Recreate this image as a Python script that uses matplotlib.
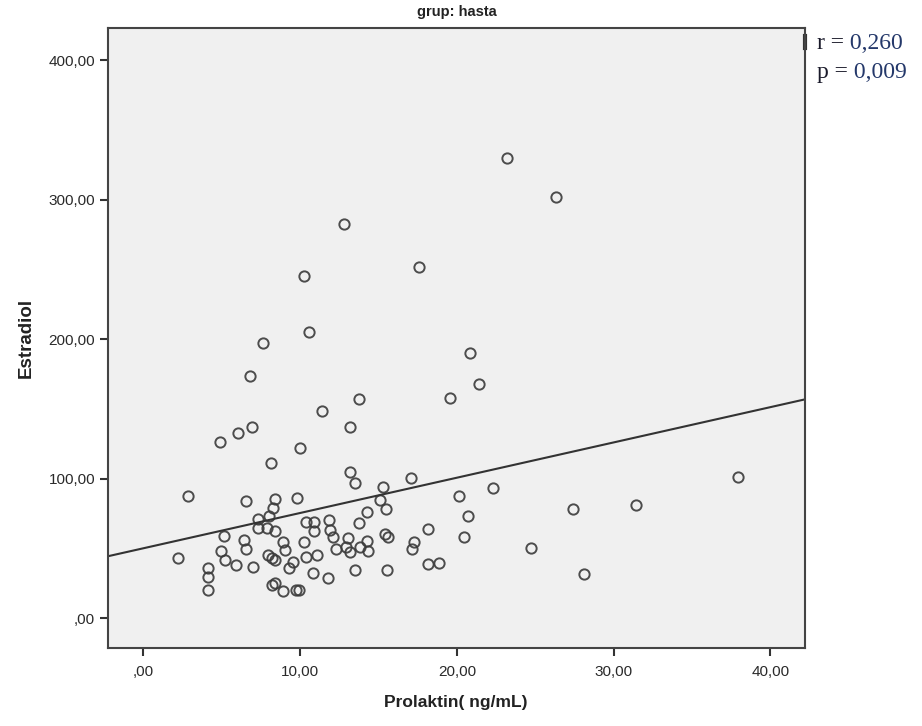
import numpy as np
import matplotlib
matplotlib.use("Agg")
import matplotlib.pyplot as plt

# values
prolaktin = [23.22, 26.33, 12.81, 10.27, 17.57, 10.59, 7.66, 20.86, 21.43, 6.81,
             11.38, 13.78, 19.57, 6.92, 6.03, 4.90, 13.19, 10.00, 8.15, 13.19,
             13.51, 17.06, 37.95, 2.88, 9.83, 20.16, 22.33, 15.27, 6.56, 8.41,
             27.43, 31.41, 20.73, 15.10, 15.48, 14.25, 13.78, 11.87, 10.38, 10.89,
             10.89, 11.91, 12.12, 13.08, 12.93, 13.19, 13.83, 14.29, 14.32, 12.30,
             15.45, 15.61, 6.43, 6.56, 8.90, 9.04, 10.26, 7.98, 8.20, 8.41,
             7.02, 10.38, 11.10, 9.53, 9.32, 10.81, 11.80, 13.51, 15.57, 8.20,
             8.41, 8.93, 9.74, 9.94, 5.15, 4.94, 5.22, 5.92, 2.24, 4.15,
             4.15, 4.15, 7.34, 7.91, 8.41, 8.30, 8.04, 7.34, 18.18, 17.27,
             17.16, 20.46, 24.73, 18.18, 18.88, 28.11]
estradiol = [329.5, 301.6, 282.4, 245.4, 251.6, 204.8, 196.9, 189.7, 167.7, 173.7,
             148.6, 156.8, 157.7, 137.1, 132.8, 126.4, 136.7, 121.6, 110.9, 104.9,
             96.6, 100.1, 100.9, 87.5, 86.2, 87.5, 93.4, 93.7, 83.9, 85.3,
             77.9, 81.0, 73.3, 84.6, 78.1, 75.8, 67.9, 70.3, 69.0, 69.0,
             62.4, 63.1, 58.3, 57.1, 51.1, 47.5, 51.1, 55.2, 48.0, 49.5,
             60.6, 58.4, 55.9, 49.5, 54.7, 48.7, 54.7, 45.2, 42.8, 41.6,
             36.8, 43.9, 45.2, 40.4, 35.6, 32.5, 28.9, 34.4, 34.4, 23.7,
             24.9, 19.4, 20.1, 20.1, 59.0, 48.2, 41.6, 38.0, 43.2, 36.1,
             29.6, 20.1, 64.3, 64.3, 62.4, 78.6, 73.3, 71.0, 63.6, 54.7,
             49.2, 58.3, 50.0, 38.5, 39.2, 31.5]

# fit line as drawn in the picture
fit_intercept = 50.0
fit_slope = 2.53
r_text = "0,260"
p_text = "0,009"

x_ticks = [0, 10, 20, 30, 40]
y_ticks = [0, 100, 200, 300, 400]

def comma_fmt(v):
    # SPSS style: 10,00 and ,00
    s = ("%.2f" % v).replace(".", ",")
    if s.startswith("0,"):
        s = s[1:]
    return s

plt.rcParams['font.family'] = ['Liberation Sans', 'DejaVu Sans']

fig = plt.figure(figsize=(9.22, 7.26), dpi=100)
ax = fig.add_axes([0.1166, 0.1074, 0.7564, 0.854])
ax.set_facecolor("#f0f0f0")

xmin, xmax = -2.28, 42.2
ax.set_xlim(xmin, xmax)
ax.set_ylim(-21.5, 423)

ax.plot(prolaktin, estradiol, linestyle="none", marker="o", ms=7.4,
        mfc="none", mec="#3a3a3a", mew=1.4, alpha=0.9)

xx = np.array([xmin, xmax])
ax.plot(xx, fit_intercept + fit_slope * xx, color="#333333", lw=1.5)

ax.set_xticks(x_ticks)
ax.set_yticks(y_ticks)
ax.set_xticklabels([comma_fmt(v) for v in x_ticks])
ax.set_yticklabels([comma_fmt(v) for v in y_ticks])
ax.tick_params(direction="out", length=6, width=1.5, color="#333333",
               labelsize=11, labelcolor="#2a2a2a", pad=3)
ax.tick_params(axis="x", pad=6)

for s in ax.spines.values():
    s.set_color("#444444")
    s.set_linewidth(1.5)

ax.set_xlabel("Prolaktin( ng/mL)", fontsize=12.5, fontweight="bold",
              color="#222222", labelpad=12)
ax.set_ylabel("Estradiol", fontsize=13.5, fontweight="bold",
              color="#222222", labelpad=10)

fig.text(0.4957, 0.983, "grup: hasta", ha="center", va="center",
         fontsize=10.5, fontweight="bold", color="#222222")

# small mark on the right spine next to the r/p text
ax.plot([1.0, 1.0], [0.967, 0.987], transform=ax.transAxes, color="#333333",
        lw=3, clip_on=False)

serif = ['Liberation Serif', 'DejaVu Serif']
for label, val, ypos in [("r =", r_text, 0.94), ("p =", p_text, 0.9)]:
    t = fig.text(0.886, ypos, label, ha="left", va="center", fontsize=17,
                 family=serif, color="#1a1a2a")
    ax.annotate(" " + val, xy=(1, 0), xycoords=t, ha="left", va="bottom",
                fontsize=17, family=serif, color="#24386a",
                annotation_clip=False)

fig.savefig("out.png", dpi=100)
